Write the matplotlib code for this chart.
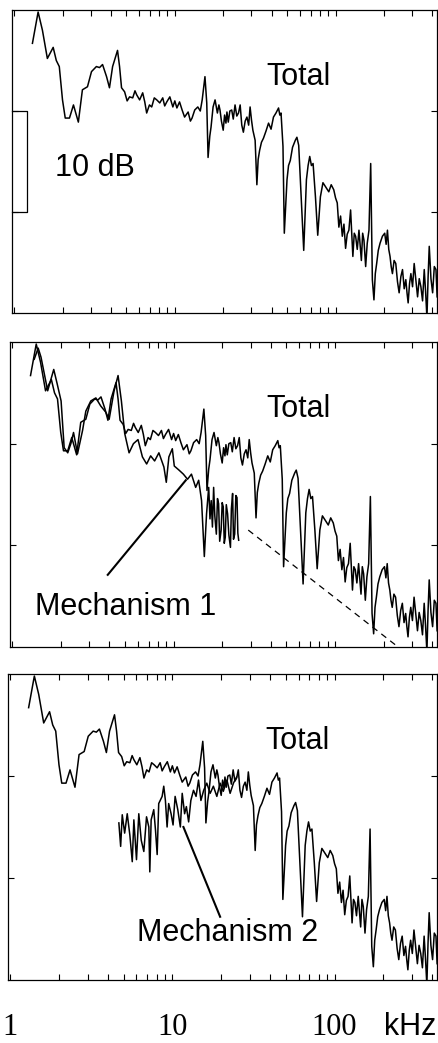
import matplotlib
matplotlib.use('Agg')
import matplotlib.pyplot as plt
from matplotlib.ticker import FixedLocator, LogLocator, NullFormatter

# ── Spectra (frequency in kHz, level in dB, arbitrary reference) ──────────
freq_total = [1.30, 1.41, 1.50, 1.61, 1.75, 1.83, 1.91, 2.00, 2.08, 2.21,
              2.34, 2.51, 2.66, 2.86, 3.03, 3.25, 3.40, 3.55, 3.76, 3.92,
              4.10, 4.40, 4.53, 4.66, 4.87, 5.05, 5.23, 5.47, 5.65, 5.79,
              6.04, 6.31, 6.50, 6.68, 6.95, 7.18, 7.45, 7.72, 8.06, 8.41,
              8.65, 8.91, 9.31, 9.72, 10.0, 10.3, 10.7, 11.1, 11.5, 12.1,
              12.5, 12.8, 13.3, 13.9, 14.4, 14.8, 15.4, 15.8, 16.1, 16.5,
              16.8, 17.3, 17.8, 18.4, 18.8, 19.1, 19.5, 20.0, 20.4, 20.8,
              21.1, 21.5, 22.0, 22.6, 23.1, 23.7, 24.3, 24.9, 25.5, 26.1,
              26.7, 27.4, 28.1, 28.8, 29.4, 30.0, 30.6, 31.6, 32.4, 33.0,
              33.7, 34.6, 35.6, 36.9, 38.3, 39.7, 41.1, 42.6, 44.2, 45.0,
              45.8, 47.1, 48.0, 49.9, 51.0, 52.3, 54.0, 56.2, 57.5, 59.0,
              61.1, 63.4, 65.9, 67.5, 69.1, 70.8, 72.5, 75.0, 77.5, 80.5,
              83.5, 86.6, 90.8, 94.0, 97.5, 100.0, 102.5, 104.9, 107.5, 110.2,
              112.8, 115.5, 118.2, 121.1, 124.1, 128.2, 130.8, 133.4, 136.5, 139.9,
              144.8, 147.5, 150.3, 154.0, 157.5, 161.5, 165.5, 169.5, 173.4, 176.8,
              180.3, 184.5, 189.2, 195.8, 202.4, 206.5, 210.4, 214.4, 218.4, 222.0,
              226.0, 231.5, 237.1, 243.0, 248.8, 255.0, 261.1, 267.5, 273.8, 278.5,
              283.1, 288.7, 294.4, 301.5, 308.6, 316.3, 324.0, 331.8, 339.8, 348.0,
              356.5, 363.5, 370.6, 376.8, 383.0, 392.5, 402.0, 411.8, 421.7, 428.7]
level_total = [26.7, 29.8, 28.0, 25.2, 26.3, 25.0, 24.4, 21.1, 19.3, 19.3,
               20.6, 18.9, 22.1, 22.4, 23.9, 24.4, 24.3, 24.6, 23.4, 22.3,
               24.4, 26.0, 24.4, 22.3, 21.9, 21.0, 21.4, 21.3, 22.0, 21.6,
               21.1, 21.8, 20.9, 19.8, 20.6, 20.4, 21.3, 21.1, 20.8, 21.3,
               20.5, 20.9, 21.4, 20.4, 21.0, 20.3, 20.9, 20.1, 19.4, 19.9,
               19.0, 19.3, 20.1, 20.4, 20.0, 21.1, 23.4, 20.8, 15.4, 17.5,
               18.4, 20.4, 21.1, 19.8, 20.6, 20.1, 19.0, 18.1, 19.6, 18.8,
               19.9, 18.9, 20.0, 20.1, 19.2, 20.6, 19.5, 19.8, 20.6, 18.6,
               17.9, 19.0, 19.4, 18.6, 20.4, 19.1, 18.1, 17.1, 12.7, 15.2,
               16.1, 16.9, 17.3, 18.0, 18.8, 18.2, 19.4, 19.8, 20.3, 19.6,
               19.8, 16.5, 7.9, 13.2, 14.6, 15.1, 16.4, 17.1, 17.4, 16.6,
               11.5, 6.2, 13.2, 14.6, 15.5, 14.6, 14.8, 11.5, 7.7, 11.5,
               12.9, 12.5, 12.0, 12.7, 12.2, 11.4, 10.9, 8.5, 9.6, 7.6,
               8.8, 6.4, 7.8, 8.2, 10.2, 5.6, 7.9, 7.6, 6.3, 8.2,
               5.2, 7.9, 7.2, 4.6, 6.9, 8.2, 14.8, 3.3, 1.3, 3.9,
               4.9, 6.2, 6.9, 7.6, 7.9, 6.8, 8.2, 6.3, 5.6, 4.6,
               3.9, 5.2, 4.9, 3.1, 2.0, 3.6, 4.3, 2.4, 3.3, 2.0,
               1.0, 2.9, 3.9, 2.6, 4.9, 3.2, 1.6, 3.4, 2.6, 1.2,
               4.3, 2.1, -0.5, 3.6, 6.6, 3.4, 2.0, 4.6, 4.3, 1.6]

freq_mech1 = [1.37, 1.45, 1.51, 1.66, 1.81, 1.90, 2.01, 2.10, 2.21, 2.31,
              2.40, 2.54, 2.73, 2.86, 3.07, 3.30, 3.54, 3.80, 3.99, 4.28,
              4.53, 4.75, 4.98, 5.30, 5.64, 6.02, 6.41, 6.81, 7.21, 7.63,
              8.11, 8.71, 9.01, 9.35, 9.82, 10.1, 10.8, 11.5, 12.2, 12.9,
              13.7, 14.3, 14.9, 15.5, 16.0, 16.5, 16.8, 17.1, 17.4, 17.7,
              18.0, 18.4, 18.7, 19.0, 19.3, 19.7, 20.0, 20.3, 20.6, 20.9,
              21.2, 21.6, 22.0, 22.5, 22.8, 23.2, 23.5, 23.9, 24.3, 24.7,
              25.0, 25.3]
level_mech1 = [28.3, 29.4, 28.5, 25.2, 27.3, 25.9, 24.2, 19.6, 19.1, 20.0,
               21.1, 19.0, 21.3, 23.2, 24.2, 24.5, 23.7, 23.1, 22.4, 25.2,
               26.7, 24.2, 21.0, 19.1, 20.0, 20.4, 18.7, 18.0, 18.8, 18.3,
               19.1, 17.7, 16.2, 18.7, 19.5, 17.8, 17.4, 17.0, 16.5, 17.0,
               15.7, 16.4, 14.4, 8.9, 13.1, 15.7, 12.6, 14.4, 11.8, 15.7,
               12.9, 11.1, 14.6, 14.1, 10.4, 11.5, 14.2, 13.8, 10.2, 10.8,
               14.0, 13.1, 11.0, 9.8, 13.6, 15.1, 10.6, 11.1, 14.9, 14.7,
               11.2, 10.5]

freq_mech2 = [4.68, 4.80, 4.91, 5.08, 5.27, 5.47, 5.66, 5.79, 6.01, 6.21,
              6.43, 6.67, 6.93, 7.16, 7.26, 7.40, 7.68, 7.87, 8.06, 8.24,
              8.65, 8.85, 9.06, 9.28, 9.49, 9.82, 10.1, 10.4, 10.8, 11.2,
              11.5, 11.9, 12.2, 12.6, 13.0, 13.5, 14.0, 14.5, 15.0, 15.6,
              16.3, 17.1, 17.9, 18.8, 19.7, 20.6, 21.7, 22.7, 23.8, 24.9]
level_mech2 = [15.4, 13.1, 16.2, 14.4, 16.3, 14.2, 11.6, 15.7, 11.8, 16.3,
               13.7, 12.6, 16.0, 15.0, 10.6, 15.7, 16.7, 14.7, 12.3, 17.3,
               18.0, 19.0, 17.6, 15.0, 17.3, 16.3, 15.2, 18.0, 16.7, 15.0,
               18.3, 16.3, 17.0, 15.5, 17.6, 18.6, 18.0, 19.6, 17.6, 18.6,
               19.3, 18.3, 19.0, 18.0, 19.3, 18.5, 19.6, 18.3, 19.3, 19.9]

# straight-line extrapolation of mechanism 1 to high frequency
trend_freq = [29.0, 260.0]
trend_level = [11.5, -0.3]

W, H = 438, 1043
fig = plt.figure(figsize=(W / 100, H / 100), dpi=100)
fig.patch.set_facecolor('white')

sans = 'Liberation Sans'
serif = 'Liberation Serif'

# left, top, bottom of each frame in pixels
frames = [(12, 10, 313), (10, 342, 647), (8, 674, 980)]
right = 437

axes = []
for left, top, bottom in frames:
    ax = fig.add_axes([left / W, 1 - bottom / H, (right - left) / W, (bottom - top) / H])
    ax.set_xscale('log')
    ax.set_xlim(0.97, 428)
    ax.set_ylim(0, 30)
    ax.xaxis.set_major_locator(FixedLocator([1, 10, 100]))
    ax.xaxis.set_minor_locator(LogLocator(base=10, subs=range(2, 10)))
    ax.xaxis.set_minor_formatter(NullFormatter())
    ax.set_yticks([10, 20])
    ax.set_xticklabels([])
    ax.set_yticklabels([])
    ax.tick_params(which='both', direction='in', top=True, right=True,
                   length=4, width=0.8, color='black')
    for s in ax.spines.values():
        s.set_linewidth(0.9)
    ax.plot(freq_total, level_total, color='black', lw=1.1, zorder=3)
    ax.text(59, 23.4, 'Total', ha='center', va='center', fontsize=22, family=sans)
    axes.append(ax)

ax1, ax2, ax3 = axes

# 10 dB scale bracket
ax1.plot([0.97, 1.21, 1.21, 0.97], [20, 20, 10, 10], color='black', lw=0.9,
         clip_on=False)
ax1.text(3.16, 14.4, '10 dB', ha='center', va='center', fontsize=22, family=sans)

# mechanism 1
ax2.plot(freq_mech1, level_mech1, color='black', lw=1.1, zorder=3)
ax2.plot(trend_freq, trend_level, color='black', lw=0.9, ls=(0, (5, 4)))
ax2.plot([3.91, 11.9], [7.1, 16.4], color='black', lw=1.5)
ax2.text(5.05, 3.9, 'Mechanism 1', ha='center', va='center', fontsize=22, family=sans)

# mechanism 2
ax3.plot(freq_mech2, level_mech2, color='black', lw=1.1, zorder=3)
ax3.plot([11.7, 19.7], [15.0, 6.2], color='black', lw=1.5)
ax3.text(21.8, 4.6, 'Mechanism 2', ha='center', va='center', fontsize=22, family=sans)

# frequency labels under the bottom frame
ax3.set_xticklabels(['1', '10', '100'], family=serif, fontsize=22)
ax3.tick_params(axis='x', which='major', pad=24)
fig.text(410 / W, 1 - 1027 / H, 'kHz', ha='center', va='center', fontsize=22, family=sans)

fig.savefig('out.png', dpi=100, facecolor='white')
